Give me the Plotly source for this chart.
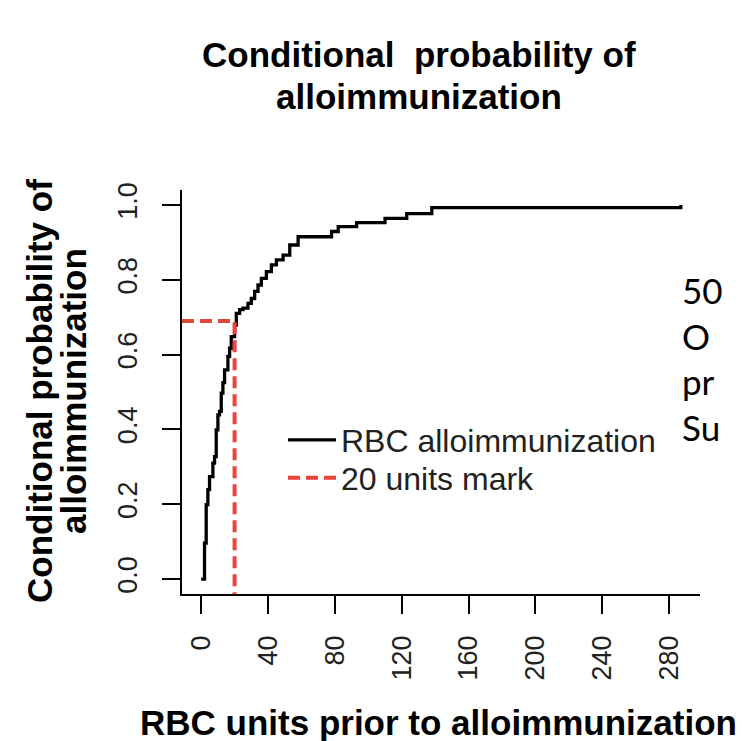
import plotly.graph_objects as go

# ---- data ----
units = [0, 2, 3, 4, 5, 7, 8, 9, 10, 11, 12, 13, 14, 16, 17, 18, 20, 21, 23, 25,
         28, 30, 32, 34, 36, 39, 42, 45, 49, 53, 58, 78, 82, 93, 110, 123, 138, 287]
cond_prob = [0.0, 0.096, 0.199, 0.239, 0.274, 0.31, 0.327, 0.399, 0.439, 0.448,
             0.497, 0.525, 0.559, 0.595, 0.617, 0.648, 0.679, 0.71, 0.72, 0.724,
             0.737, 0.75, 0.769, 0.786, 0.804, 0.822, 0.84, 0.853, 0.866, 0.893,
             0.915, 0.929, 0.942, 0.953, 0.964, 0.977, 0.993, 1.0]
mark_units = 20
mark_prob = 0.69

x_ticks = [0, 40, 80, 120, 160, 200, 240, 280]
y_ticks = [0.0, 0.2, 0.4, 0.6, 0.8, 1.0]
y_ticktext = ["0.0", "0.2", "0.4", "0.6", "0.8", "1.0"]

series_names = ["RBC alloimmunization", "20 units mark"]
side_text = ["50", "O", "pr", "Su"]

# R-like 4% padding of axis ranges
x_lo = min(units) - 0.04 * (max(units) - min(units))
x_hi = max(units) + 0.04 * (max(units) - min(units))
y_lo, y_hi = -0.04, 1.04

FONT = "Liberation Sans, Arial, Helvetica, sans-serif"
OFF = 8  # page body margin in the browser
W, H = 745 - OFF, 741 - OFF
ML, MR, MT, MB = 182 - OFF, 45, 190 - OFF, 147

fig = go.Figure()
fig.add_trace(go.Scatter(
    x=units, y=cond_prob, mode="lines", name=series_names[0],
    line=dict(color="black", width=3.3, shape="hv"), legend="legend",
))
fig.add_trace(go.Scatter(
    x=[x_lo, mark_units, mark_units], y=[mark_prob, mark_prob, y_lo],
    mode="lines", name=series_names[1],
    line=dict(color="#e8463a", width=4, dash="12px,6px"), legend="legend2",
))

axis_common = dict(
    showline=True, linecolor="black", linewidth=1.5, mirror=False,
    ticks="outside", ticklen=18, tickwidth=1.5, tickcolor="black",
    showgrid=False, zeroline=False, tickangle=-90,
    tickfont=dict(family=FONT, size=27, color="#222"),
)
fig.update_xaxes(range=[x_lo, x_hi], tickvals=x_ticks, ticklabelstandoff=11,
                 **axis_common)
fig.update_yaxes(range=[y_lo, y_hi], tickvals=y_ticks, ticktext=y_ticktext,
                 ticklabelstandoff=14, **axis_common)

pw = W - ML - MR
ph = H - MT - MB


def px_to_paper_x(px):
    return (px - OFF - ML) / pw


def px_to_paper_y(py):
    return (H - MB - (py - OFF)) / ph


annotations = []
# title (two lines)
for txt, cy in [("Conditional  probability of", 55), ("alloimmunization", 96)]:
    annotations.append(dict(
        text=f"<b>{txt}</b>", xref="paper", yref="paper",
        x=px_to_paper_x(419), y=px_to_paper_y(cy), xanchor="center", yanchor="middle",
        showarrow=False, font=dict(family=FONT, size=35, color="black")))
# y axis title (two lines, rotated)
for txt, cx in [("Conditional probability of", 39), ("alloimmunization", 73)]:
    annotations.append(dict(
        text=f"<b>{txt}</b>", xref="paper", yref="paper",
        x=px_to_paper_x(cx), y=px_to_paper_y(391), xanchor="center", yanchor="middle",
        textangle=-90, showarrow=False, font=dict(family=FONT, size=35, color="black")))
# x axis title
annotations.append(dict(
    text="<b>RBC units prior to alloimmunization</b>", xref="paper", yref="paper",
    x=px_to_paper_x(438), y=px_to_paper_y(722), xanchor="center", yanchor="middle",
    showarrow=False, font=dict(family=FONT, size=35, color="black")))
# slide text fragments at right edge (one block, one line each)
annotations.append(dict(
    text="<br>".join(side_text), xref="paper", yref="paper",
    x=px_to_paper_x(680), y=px_to_paper_y(358), xanchor="left", yanchor="middle",
    align="left", showarrow=False,
    font=dict(family="Lato, Open Sans, sans-serif", size=35, color="black")))

legend_common = dict(xanchor="left", yanchor="middle", bgcolor="rgba(0,0,0,0)",
                     borderwidth=0, font=dict(family=FONT, size=32, color="#222"),
                     itemwidth=48)

fig.update_layout(
    width=W, height=H,
    margin=dict(l=ML, r=MR, t=MT, b=MB, pad=0),
    paper_bgcolor="white", plot_bgcolor="white",
    showlegend=True,
    legend=dict(x=px_to_paper_x(283), y=px_to_paper_y(440), **legend_common),
    legend2=dict(x=px_to_paper_x(283), y=px_to_paper_y(478), **legend_common),
    annotations=annotations,
)

fig.write_html("out.html")
